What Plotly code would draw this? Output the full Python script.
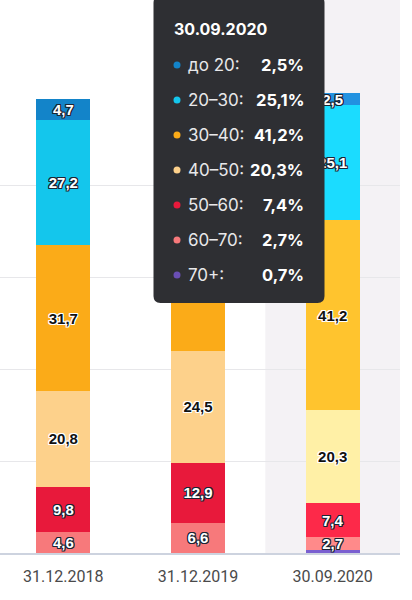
import plotly.graph_objects as go

categories = ["31.12.2018", "31.12.2019", "30.09.2020"]
groups = ["до 20", "20–30", "30–40", "40–50", "50–60", "60–70", "70+"]

v_do20 = [4.7, 2.6, 2.5]
v_20_30 = [27.2, 20.5, 25.1]
v_30_40 = [31.7, 32.9, 41.2]
v_40_50 = [20.8, 24.5, 20.3]
v_50_60 = [9.8, 12.9, 7.4]
v_60_70 = [4.6, 6.6, 2.7]
v_70p = [0.0, 0.0, 0.7]

series = [v_do20, v_20_30, v_30_40, v_40_50, v_50_60, v_60_70, v_70p]

base_colors = ["#1384c9", "#14c6ec", "#fbab18", "#fdd18b", "#e8193b", "#f7797b", "#6a4fb5"]
hover_colors = ["#2292e0", "#1bdcff", "#ffc42e", "#fff0a6", "#fd2949", "#ff8a8a", "#7a5fd0"]
dark_text = [True, True, False, False, True, True, True]

hover_idx = 2

W, H = 412, 600
L, R, T, B = 0, 12, 93, 47
PW, PH = W - L - R, H - T - B


def px(x):
    return (x - L) / PW


def py(y):
    return (H - B - y) / PH


def fmt(v):
    return f"{v:.1f}".replace(".", ",")


def outline(c):
    return ", ".join(f"{dx}px {dy}px 0 {c}" for dx in (-1, 0, 1) for dy in (-1, 0, 1) if dx or dy)


fig = go.Figure()
# stack from bottom (70+) to top (до 20)
for name, vals, bc, hc, dk in reversed(list(zip(groups, series, base_colors, hover_colors, dark_text))):
    colors = [hc if i == hover_idx else bc for i in range(len(vals))]
    texts = [fmt(v) if v >= 1 else "" for v in vals]
    fig.add_trace(go.Bar(
        x=categories, y=vals, name=name,
        marker=dict(color=colors, line=dict(width=0)),
        text=texts, textposition="inside", insidetextanchor="middle",
        constraintext="none",
        textfont=dict(family="Liberation Sans", size=15, weight="bold",
                      color="#ffffff" if dk else "#111111",
                      shadow=outline("#1b2433") if dk else outline("#ffffff")),
        width=0.4, hoverinfo="skip",
    ))

# hover highlight band
fig.add_shape(type="rect", xref="x", yref="paper", x0=hover_idx - 0.5, x1=hover_idx + 0.5,
              y0=0, y1=py(0), fillcolor="#f4f2f5", line=dict(width=0), layer="below")

# tooltip box
x0, x1, y0, y1, r = 153.5, 324.5, -4, 303, 7
path = (f"M {px(x0 + r)},{py(y0)} L {px(x1 - r)},{py(y0)} Q {px(x1)},{py(y0)} {px(x1)},{py(y0 + r)} "
        f"L {px(x1)},{py(y1 - r)} Q {px(x1)},{py(y1)} {px(x1 - r)},{py(y1)} "
        f"L {px(x0 + r)},{py(y1)} Q {px(x0)},{py(y1)} {px(x0)},{py(y1 - r)} "
        f"L {px(x0)},{py(y0 + r)} Q {px(x0)},{py(y0)} {px(x0 + r)},{py(y0)} Z")
fig.add_shape(type="path", xref="paper", yref="paper", path=path,
              fillcolor="#2e2f33", line=dict(width=0), layer="above")

fig.add_annotation(xref="paper", yref="paper", x=px(172), y=py(29), xanchor="left", yanchor="middle",
                   text=f"<b>{categories[hover_idx]}</b>", showarrow=False,
                   font=dict(family="Inter", size=16, color="#ffffff"))
for i, (name, vals, bc) in enumerate(zip(groups, series, base_colors)):
    yy = 65 + 35 * i
    fig.add_shape(type="circle", xref="paper", yref="paper", xsizemode="pixel", ysizemode="pixel",
                  xanchor=px(177), yanchor=py(yy), x0=-3.5, x1=3.5, y0=-3.5, y1=3.5,
                  fillcolor=bc, line=dict(width=0), layer="above")
    fig.add_annotation(xref="paper", yref="paper", x=px(186), y=py(yy), xanchor="left", yanchor="middle",
                       text=f"{name}:", showarrow=False,
                       font=dict(family="Inter", size=17, color="#e8e8ea"))
    fig.add_annotation(xref="paper", yref="paper", x=px(306), y=py(yy), xanchor="right", yanchor="middle",
                       text=f"<b>{fmt(vals[hover_idx])}%</b>", showarrow=False,
                       font=dict(family="Inter", size=16.5, color="#ffffff"))

fig.update_layout(
    width=W, height=H, barmode="stack", showlegend=False,
    margin=dict(l=L, r=R, t=T, b=B),
    paper_bgcolor="#ffffff", plot_bgcolor="#ffffff",
    separators=", ",
    uniformtext=dict(minsize=15, mode="show"),
    xaxis=dict(range=[-0.47, 2.5], showgrid=False, showline=True, linecolor="#cdd3df", linewidth=1.5,
               ticks="", tickfont=dict(family="Roboto", size=16, color="#4a4a4a"), ticklabelstandoff=8),
    yaxis=dict(range=[0, 100], tickvals=[0, 20, 40, 60, 80, 100], showticklabels=False,
               showgrid=True, gridcolor="#e7e7ea", gridwidth=1, zeroline=False, showline=False),
)

fig.write_html("out.html", config={"displayModeBar": False},
               post_script="document.body.style.margin='0';document.body.style.overflow='hidden';")
